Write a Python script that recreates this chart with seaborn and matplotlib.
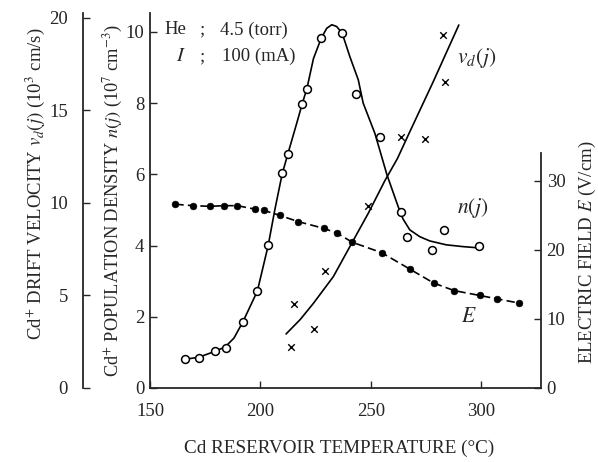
import seaborn as sns
import matplotlib.pyplot as plt

# Cd+ population density n(j)  (1e7 cm^-3), measured points
n_temp = [165.9, 172.3, 179.3, 184.4, 192.0, 198.6, 203.5, 209.8, 212.3, 218.9,
          221.0, 227.5, 236.9, 243.2, 254.1, 263.8, 266.5, 277.6, 283.0, 298.8]
n_val = [0.81, 0.85, 1.05, 1.13, 1.85, 2.72, 4.01, 6.03, 6.56, 7.98,
         8.39, 9.82, 9.96, 8.26, 7.06, 4.95, 4.23, 3.88, 4.44, 4.00]
# hand-drawn curve through n(j)
n_fit_temp = [166, 172, 179, 184, 188, 192, 198.6, 203.5, 206.5, 209.8, 212.3, 216.5,
              219, 221, 224, 227.5, 230, 232.3, 234.5, 237, 240.5, 244.3, 246.5,
              251.8, 257.3, 262.3, 264.5, 267.6, 272.1, 276.6, 284.1, 291.6, 297.6]
n_fit = [0.81, 0.86, 1.02, 1.15, 1.4, 1.85, 2.72, 4.0, 5.0, 6.0, 6.55, 7.45,
         8.0, 8.4, 9.25, 9.82, 10.1, 10.2, 10.15, 9.96, 9.3, 8.65, 8.0,
         7.15, 5.98, 5.1, 4.75, 4.44, 4.25, 4.13, 4.02, 3.97, 3.94]

# Cd+ drift velocity vd(j)  (1e3 cm/s)
vd_temp = [214.0, 215.2, 224.2, 229.3, 248.8, 263.5, 274.5, 282.6, 283.6]
vd_val = [2.22, 4.52, 3.19, 6.31, 9.85, 13.58, 13.44, 19.08, 16.54]
vd_fit_temp = [211.6, 218, 224, 233, 241.3, 248.8, 256.3, 262, 267.3, 278, 289.8]
vd_fit = [2.92, 3.7, 4.58, 6.02, 7.82, 9.44, 11.2, 12.4, 13.77, 16.5, 19.62]

# electric field E  (V/cm)
e_temp = [161.5, 169.6, 177.3, 183.3, 189.5, 197.5, 201.7, 208.7, 217.0, 228.8,
          234.8, 241.6, 254.8, 267.7, 278.4, 287.7, 299.2, 307.2, 317.0]
e_val = [26.6, 26.4, 26.3, 26.4, 26.4, 25.9, 25.7, 25.0, 24.1, 23.1,
         22.4, 21.1, 19.6, 17.2, 15.2, 14.1, 13.4, 12.9, 12.3]

sns.set_style("ticks")
plt.rcParams["font.family"] = ["Liberation Serif", "DejaVu Serif"]
plt.rcParams["mathtext.fontset"] = "stix"
fs = 13.5

fig = plt.figure(figsize=(5.98, 4.62), dpi=100)
ax = fig.add_axes([0.2508, 0.1602, 0.6539, 0.8117])
ax_vd = ax.twinx()
ax_e = ax.twinx()

# n(j)
sns.lineplot(x=n_fit_temp, y=n_fit, ax=ax, color="black", lw=1.2)
sns.scatterplot(x=n_temp, y=n_val, ax=ax, marker="o", s=32, facecolor="white",
                edgecolor="black", linewidth=1.1, zorder=4)
# vd(j)
sns.lineplot(x=vd_fit_temp, y=vd_fit, ax=ax_vd, color="black", lw=1.2)
sns.scatterplot(x=vd_temp, y=vd_val, ax=ax_vd, marker="x", s=22, color="black",
                linewidth=1.0, zorder=4)
# E
sns.lineplot(x=e_temp, y=e_val, ax=ax_e, color="black", lw=1.2, linestyle=(0, (5, 2.5)))
sns.scatterplot(x=e_temp, y=e_val, ax=ax_e, marker="o", s=24, color="black",
                edgecolor="black", zorder=4)

ax.set_xlim(150, 327)
ax.set_ylim(0, 10.53)
ax_vd.set_ylim(0, 20.27)
ax_e.set_ylim(0, 54.3)

ax.set_xticks([150, 200, 250, 300])
ax.set_yticks([0, 2, 4, 6, 8, 10])
ax_vd.set_yticks([0, 5, 10, 15, 20])
ax_e.set_yticks([0, 10, 20, 30])

for a in (ax, ax_vd, ax_e):
    for s in a.spines.values():
        s.set_visible(False)
        s.set_linewidth(1.3)
ax.spines["left"].set_visible(True)
ax.spines["bottom"].set_visible(True)
ax_vd.spines["left"].set_visible(True)
ax_vd.spines["left"].set_position(("axes", -0.171))
ax_vd.yaxis.tick_left()
ax_vd.yaxis.set_label_position("left")
ax_e.spines["right"].set_visible(True)
ax_e.spines["right"].set_bounds(0, 34)

ax.tick_params(axis="x", direction="in", length=5, width=1, pad=11, labelsize=fs)
ax.tick_params(axis="y", direction="in", length=5, width=1, pad=4, labelsize=fs)
ax_vd.tick_params(axis="y", direction="in", length=5, width=1, pad=11, labelsize=fs)
ax_e.tick_params(axis="y", direction="in", length=5, width=1, pad=4, labelsize=fs)

ax.set_xlabel("Cd RESERVOIR TEMPERATURE (°C)", fontsize=fs + 0.3, va="center")
ax.xaxis.set_label_coords(0.483, -0.16)
ax.set_ylabel(r"Cd$^{+}$ POPULATION DENSITY $n(j)$ (10$^{7}$ cm$^{-3}$)", fontsize=fs - 0.3, va="center")
ax.yaxis.set_label_coords(-0.093, 0.501)
ax_vd.set_ylabel(r"Cd$^{+}$ DRIFT VELOCITY $v_d(j)$ (10$^{3}$ cm/s)", fontsize=fs, va="center")
ax_vd.yaxis.set_label_coords(-0.294, 0.545)
ax_e.set_ylabel(r"ELECTRIC FIELD $E$ (V/cm)", fontsize=fs, va="center", rotation=90)
ax_e.yaxis.set_label_coords(1.118, 0.363)

# conditions and curve labels
ax.text(0.038, 0.955, "He", transform=ax.transAxes, fontsize=fs, va="center")
ax.text(0.066, 0.884, "$I$", transform=ax.transAxes, fontsize=fs + 1, va="center")
ax.text(0.128, 0.955, ";", transform=ax.transAxes, fontsize=fs, va="center")
ax.text(0.128, 0.884, ";", transform=ax.transAxes, fontsize=fs, va="center")
ax.text(0.179, 0.955, "4.5 (torr)", transform=ax.transAxes, fontsize=fs, va="center")
ax.text(0.184, 0.884, "100 (mA)", transform=ax.transAxes, fontsize=fs, va="center")
ax.text(0.836, 0.88, "$v_d(j)$", transform=ax.transAxes, fontsize=fs + 2, ha="center", va="center")
ax.text(0.826, 0.48, "$n(j)$", transform=ax.transAxes, fontsize=fs + 2, ha="center", va="center")
ax.text(0.816, 0.189, "$E$", transform=ax.transAxes, fontsize=fs + 2, ha="center", va="center")

fig.savefig("out.png", dpi=100)
